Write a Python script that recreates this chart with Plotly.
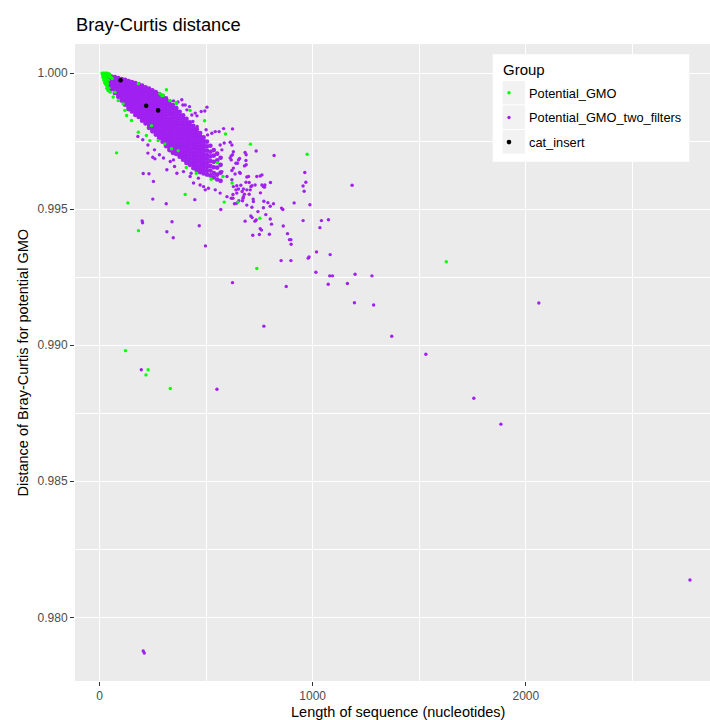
import plotly.graph_objects as go

# ---------------------------------------------------------------------------
# Potential_GMO (green)
gmo_len = [12, 18, 24, 30, 36, 42, 48,
           14, 20, 26, 33, 40, 47, 54, 60,
           16, 22, 28, 35, 42,
           20, 26, 32, 38,
           24, 30, 36, 44,
           34, 40, 50,
           72, 64, 88, 111, 119, 127, 150, 182, 220, 236, 275, 307, 338, 369,
           182, 299, 314, 361, 283, 330, 244,
           80, 122, 228, 218, 332, 133, 183, 402, 585, 752, 974, 708, 591, 493,
           524, 553, 622, 649, 738, 1627, 407, 454, 579, 425, 360, 293]
gmo_dist = [1.00000, 1.00000, 1.00000, 1.00000, 1.00000, 0.99998, 0.99996,
            0.99994, 0.99992, 0.99993, 0.99991, 0.99990, 0.99987, 0.99985, 0.99980,
            0.99985, 0.99983, 0.99982, 0.99978, 0.99975,
            0.99975, 0.99972, 0.99968, 0.99962,
            0.99965, 0.99958, 0.99952, 0.99945,
            0.99944, 0.99936, 0.99930,
            0.99930, 0.99912, 0.99899, 0.99887, 0.99863, 0.99844, 0.99826, 0.99783,
            0.99771, 0.99752, 0.99752, 0.99740, 0.99722, 0.99715,
            0.99961, 0.99918, 0.99939, 0.99887, 0.99924, 0.99899, 0.99807,
            0.99707, 0.98980, 0.98910, 0.98891, 0.98841, 0.99523, 0.99421, 0.99554,
            0.99526, 0.99467, 0.99702, 0.99739, 0.99776, 0.99825,
            0.99610, 0.99671, 0.99596, 0.99526, 0.99282, 0.99307, 0.99653, 0.99632,
            0.99620, 0.99863, 0.99892, 0.99917]

# ---------------------------------------------------------------------------
# Potential_GMO_two_filters (purple): the dense band, one list per length
core_len = [40, 56, 72, 88, 104, 120, 136, 152, 168, 184, 200, 216, 232, 248,
            264, 280, 296, 312, 328, 344, 360, 376, 392, 408, 424, 440, 456,
            472, 488, 504, 520, 536, 552, 568]
core_dist = [
    [0.99989, 0.99978, 0.99966, 0.99955],
    [0.99987, 0.99976, 0.99963, 0.99952, 0.99941],
    [0.99985, 0.99972, 0.99961, 0.99949, 0.99938, 0.99927],
    [0.99982, 0.99970, 0.99958, 0.99946, 0.99933, 0.99922, 0.99913],
    [0.99978, 0.99966, 0.99955, 0.99942, 0.99931, 0.99918, 0.99907, 0.99899],
    [0.99975, 0.99963, 0.99950, 0.99939, 0.99927, 0.99916, 0.99903, 0.99892, 0.99884],
    [0.99971, 0.99959, 0.99948, 0.99935, 0.99923, 0.99911, 0.99900, 0.99887, 0.99876, 0.99868],
    [0.99967, 0.99955, 0.99942, 0.99931, 0.99919, 0.99908, 0.99895, 0.99883, 0.99871, 0.99859],
    [0.99963, 0.99951, 0.99939, 0.99926, 0.99915, 0.99903, 0.99890, 0.99879, 0.99867, 0.99855, 0.99846],
    [0.99959, 0.99946, 0.99935, 0.99923, 0.99910, 0.99899, 0.99887, 0.99874, 0.99863, 0.99851, 0.99839],
    [0.99954, 0.99942, 0.99931, 0.99918, 0.99906, 0.99895, 0.99882, 0.99870, 0.99859, 0.99846, 0.99834, 0.99825],
    [0.99948, 0.99937, 0.99924, 0.99912, 0.99901, 0.99888, 0.99876, 0.99865, 0.99852, 0.99840, 0.99828, 0.99815],
    [0.99943, 0.99931, 0.99918, 0.99907, 0.99895, 0.99883, 0.99870, 0.99859, 0.99847, 0.99834, 0.99823, 0.99811, 0.99799],
    [0.99937, 0.99925, 0.99914, 0.99901, 0.99889, 0.99876, 0.99865, 0.99853, 0.99840, 0.99829, 0.99817, 0.99804, 0.99793, 0.99786],
    [0.99930, 0.99918, 0.99907, 0.99894, 0.99882, 0.99870, 0.99857, 0.99846, 0.99834, 0.99821, 0.99810, 0.99798, 0.99785, 0.99774],
    [0.99923, 0.99912, 0.99899, 0.99888, 0.99876, 0.99863, 0.99852, 0.99840, 0.99827, 0.99816, 0.99804, 0.99791, 0.99780, 0.99768, 0.99761],
    [0.99916, 0.99904, 0.99891, 0.99880, 0.99868, 0.99855, 0.99844, 0.99832, 0.99819, 0.99808, 0.99796, 0.99783, 0.99772, 0.99760, 0.99748],
    [0.99907, 0.99895, 0.99884, 0.99871, 0.99859, 0.99846, 0.99835, 0.99823, 0.99810, 0.99799, 0.99787, 0.99774, 0.99763, 0.99751, 0.99739, 0.99732],
    [0.99895, 0.99883, 0.99870, 0.99859, 0.99847, 0.99834, 0.99823, 0.99811, 0.99798, 0.99787, 0.99775, 0.99762, 0.99751, 0.99739, 0.99726, 0.99717],
    [0.99882, 0.99870, 0.99857, 0.99846, 0.99834, 0.99821, 0.99810, 0.99798, 0.99785, 0.99774, 0.99762, 0.99749, 0.99738, 0.99726, 0.99713, 0.99707],
    [0.99871, 0.99859, 0.99846, 0.99835, 0.99823, 0.99810, 0.99799, 0.99787, 0.99774, 0.99763, 0.99751, 0.99738, 0.99727, 0.99715, 0.99703],
    [0.99858, 0.99846, 0.99833, 0.99822, 0.99810, 0.99797, 0.99786, 0.99774, 0.99761, 0.99750, 0.99738, 0.99725, 0.99714, 0.99702, 0.99693],
    [0.99845, 0.99833, 0.99820, 0.99809, 0.99797, 0.99784, 0.99773, 0.99761, 0.99748, 0.99737, 0.99725, 0.99712, 0.99701, 0.99689, 0.99682],
    [0.99832, 0.99820, 0.99807, 0.99796, 0.99784, 0.99771, 0.99760, 0.99748, 0.99735, 0.99724, 0.99712, 0.99699, 0.99688, 0.99676, 0.99670],
    [0.99819, 0.99807, 0.99794, 0.99783, 0.99771, 0.99758, 0.99747, 0.99735, 0.99722, 0.99711, 0.99699, 0.99686, 0.99675, 0.99663],
    [0.99806, 0.99794, 0.99781, 0.99770, 0.99758, 0.99745, 0.99734, 0.99722, 0.99709, 0.99698, 0.99686, 0.99673, 0.99662, 0.99651],
    [0.99794, 0.99782, 0.99769, 0.99758, 0.99746, 0.99733, 0.99722, 0.99710, 0.99697, 0.99686, 0.99674, 0.99661, 0.99650, 0.99643],
    [0.99780, 0.99768, 0.99755, 0.99744, 0.99732, 0.99719, 0.99708, 0.99696, 0.99683, 0.99672, 0.99660, 0.99647, 0.99636],
    [0.99764, 0.99752, 0.99739, 0.99728, 0.99716, 0.99703, 0.99692, 0.99680, 0.99667, 0.99656, 0.99644, 0.99631],
    [0.99748, 0.99731, 0.99715, 0.99699, 0.99685, 0.99669, 0.99655, 0.99641, 0.99627],
    [0.99733, 0.99711, 0.99694, 0.99677, 0.99659, 0.99642, 0.99624],
    [0.99717, 0.99697, 0.99674, 0.99654, 0.99633, 0.99617],
    [0.99704, 0.99679, 0.99653, 0.99627, 0.99609],
    [0.99689, 0.99663, 0.99634, 0.99604],
]

# scattered two-filter sequences around and beyond the band
two_len = [347, 368, 386, 391, 402, 410, 422, 433, 449, 457, 477, 438, 458, 494, 504,
           500, 507, 527, 543, 561, 582, 624, 585, 566, 574, 613, 621, 624, 613, 652,
           683, 735, 819, 647, 628, 660, 691, 738, 762, 769, 707, 730, 628, 621, 598,
           574, 551, 488, 511, 543, 566, 598, 644, 675, 688, 657,
           253, 332, 347, 300, 316, 363, 394, 425, 464, 441, 472, 496,
           180, 203, 227, 258, 281, 352, 430, 250, 227, 205, 232, 260,
           313, 250, 200, 202, 316, 340, 447, 468, 346, 569,
           628, 618, 618, 640, 687, 688, 680, 621, 657, 636, 699, 754,
           687, 702, 762, 776, 774, 802, 644, 663, 710, 715, 640, 652, 675, 691, 669,
           626, 680, 702, 755, 721, 722, 618, 626, 673, 654, 671, 643, 633,
           771, 790, 816, 913, 691, 715, 769, 801, 743, 710, 716, 780, 801,
           683, 729, 735, 807, 862, 754, 760, 719, 750, 797, 882, 891, 898, 899,
           1018, 1082, 983, 979, 852, 898, 854, 860, 955, 1041, 1074, 1034,
           963, 968, 955, 960, 987, 1185, 497, 624, 1015, 1080, 1093, 1199, 1278,
           1073, 1163, 876, 1196, 1286, 1371, 1531, 1756, 1883, 2061, 771, 196, 551,
           2770, 205, 210]
two_dist = [0.99898, 0.99894, 0.99902, 0.99883, 0.99883, 0.99865, 0.99877, 0.99846,
            0.99853, 0.99843, 0.99859, 0.99822, 0.99804, 0.99861, 0.99875,
            0.99792, 0.99773, 0.99779, 0.99785, 0.99785, 0.99796, 0.99795, 0.99743,
            0.99736, 0.99718, 0.99746, 0.99736, 0.99700, 0.99688, 0.99681,
            0.99708, 0.99714, 0.99697, 0.99669, 0.99651, 0.99632, 0.99618, 0.99620,
            0.99626, 0.99583, 0.99571, 0.99589, 0.99583, 0.99608, 0.99620,
            0.99638, 0.99626, 0.99583, 0.99577, 0.99571, 0.99559, 0.99546, 0.99559,
            0.99546, 0.99700, 0.99686,
            0.99602, 0.99675, 0.99681, 0.99688, 0.99645, 0.99632, 0.99638, 0.99620,
            0.99614, 0.99596, 0.99589, 0.99571,
            0.99767, 0.99755, 0.99736, 0.99718, 0.99700, 0.99657, 0.99632, 0.99691,
            0.99706, 0.99631, 0.99630, 0.99685,
            0.99520, 0.99537, 0.99457, 0.99450, 0.99417, 0.99454, 0.99535, 0.99439,
            0.99395, 0.99499,
            0.99711, 0.99696, 0.99681, 0.99669, 0.99679, 0.99663, 0.99659, 0.99642,
            0.99635, 0.99629, 0.99620, 0.99622,
            0.99599, 0.99598, 0.99589, 0.99589, 0.99581, 0.99598, 0.99586, 0.99588,
            0.99583, 0.99586, 0.99571, 0.99574, 0.99574, 0.99571, 0.99565,
            0.99554, 0.99555, 0.99555, 0.99560, 0.99537, 0.99528, 0.99540, 0.99540,
            0.99540, 0.99531, 0.99531, 0.99522, 0.99520,
            0.99529, 0.99524, 0.99520, 0.99523, 0.99515, 0.99507, 0.99505, 0.99511,
            0.99491, 0.99475, 0.99469, 0.99480, 0.99464,
            0.99456, 0.99456, 0.99460, 0.99445, 0.99438, 0.99428, 0.99423, 0.99404,
            0.99407, 0.99408, 0.99410, 0.99388, 0.99388, 0.99371,
            0.99343, 0.99333, 0.99324, 0.99320, 0.99311, 0.99311, 0.99504, 0.99499,
            0.99458, 0.99458, 0.99461, 0.99432,
            0.99635, 0.99599, 0.99585, 0.99566, 0.99516, 0.99588, 0.99365, 0.99230,
            0.99268, 0.99255, 0.99255, 0.99261, 0.99255,
            0.99224, 0.99227, 0.99216, 0.99156, 0.99148, 0.99033, 0.98967, 0.98805,
            0.98710, 0.99155, 0.99070, 0.98910, 0.98838,
            0.98137, 0.97876, 0.97869]

# ---------------------------------------------------------------------------
# cat_insert (black)
cat_len = [99, 219, 275]
cat_dist = [0.99974, 0.99880, 0.99863]

x_ticks = [0, 1000, 2000]
y_ticks = [0.980, 0.985, 0.990, 0.995, 1.000]
y_ticktext = ["0.980", "0.985", "0.990", "0.995", "1.000"]

# ---------------------------------------------------------------------------
core_x = [x for x, col in zip(core_len, core_dist) for _ in col]
core_y = [y for col in core_dist for y in col]

FONT = "Liberation Sans, Arial, Helvetica, sans-serif"
PURPLE, GREEN = "#A020F0", "#00FF00"
W, H = 710, 720
ML, MR, MT, MB = 75, 0, 44, 39
PW, PH = W - ML - MR, H - MT - MB


def px_x(px):
    return (px - ML) / PW


def px_y(py):
    return (H - MB - py) / PH


fig = go.Figure()
# the overlapping band is drawn with slightly larger dots so that it reads as
# one solid cloud, as the overplotted points do in the original
fig.add_trace(go.Scatter(
    x=core_x, y=core_y, mode="markers", name="Potential_GMO_two_filters",
    marker=dict(color=PURPLE, size=4.7, line=dict(width=0)),
    legendgroup="b", showlegend=False, hoverinfo="skip"))
fig.add_trace(go.Scatter(
    x=two_len, y=two_dist, mode="markers", name="Potential_GMO_two_filters",
    marker=dict(color=PURPLE, size=3.4, line=dict(width=0)),
    legendrank=2, legendgroup="b", hoverinfo="skip"))
fig.add_trace(go.Scatter(
    x=gmo_len, y=gmo_dist, mode="markers", name="Potential_GMO",
    marker=dict(color=GREEN, size=3.4, line=dict(width=0)),
    legendrank=1, legendgroup="a", hoverinfo="skip"))
fig.add_trace(go.Scatter(
    x=cat_len, y=cat_dist, mode="markers", name="cat_insert",
    marker=dict(color="black", size=4.6, line=dict(width=0)),
    legendrank=3, legendgroup="c", hoverinfo="skip"))

# legend panel and grey key backgrounds (ggplot style)
shapes = [dict(type="rect", xref="paper", yref="paper", layer="above",
               x0=px_x(492.7), x1=px_x(689.3), y0=px_y(161.7), y1=px_y(54.3),
               fillcolor="white", line=dict(width=0))]
for top, bot in [(81.0, 104.3), (105.3, 129.0), (130.0, 153.7)]:
    shapes.append(dict(type="rect", xref="paper", yref="paper", layer="above",
                       x0=px_x(502.5), x1=px_x(525.0), y0=px_y(bot), y1=px_y(top),
                       fillcolor="#F2F2F2", line=dict(width=0)))

fig.update_layout(
    width=W, height=H,
    margin=dict(l=ML, r=MR, t=MT, b=MB, pad=0),
    paper_bgcolor="white", plot_bgcolor="#EBEBEB",
    font=dict(family=FONT, color="black"),
    title=dict(text="Bray-Curtis distance", x=76 / W, xanchor="left",
               xref="container", yref="container", y=1 - 25 / H, yanchor="middle",
               font=dict(size=18.3, color="black")),
    showlegend=True,
    legend=dict(font=dict(size=12.8, color="black"),
                x=px_x(489), y=px_y(78), xanchor="left", yanchor="top",
                bgcolor="rgba(0,0,0,0)", borderwidth=0,
                tracegroupgap=5, itemwidth=30, traceorder="grouped"),
    shapes=shapes,
    annotations=[
        dict(text="Group", xref="paper", yref="paper",
             x=px_x(501), y=px_y(69), xanchor="left", yanchor="middle",
             showarrow=False, font=dict(size=15, color="black")),
        dict(text="Length of sequence (nucleotides)", xref="paper", yref="paper",
             x=px_x(397.5), y=px_y(712), xanchor="center", yanchor="middle",
             showarrow=False, font=dict(size=14.5, color="black")),
        dict(text="Distance of Bray-Curtis for potential GMO", xref="paper", yref="paper",
             x=px_x(22), y=px_y(362.5), xanchor="center", yanchor="middle",
             textangle=-90, showarrow=False, font=dict(size=14.5, color="black")),
    ],
)

fig.update_xaxes(
    range=[-115, 2864], tickvals=x_ticks, ticktext=[str(v) for v in x_ticks],
    ticks="outside", ticklen=4, tickwidth=1, tickcolor="#333333",
    tickfont=dict(size=12, color="#4D4D4D", family=FONT),
    showgrid=True, gridcolor="white", gridwidth=1.1,
    zeroline=False, showline=False,
    minor=dict(tickvals=[500, 1500, 2500], showgrid=True, gridcolor="white",
               gridwidth=0.55, ticks=""),
)
fig.update_yaxes(
    range=[0.97766, 1.00107], tickvals=y_ticks, ticktext=y_ticktext,
    ticks="outside", ticklen=4, tickwidth=1, tickcolor="#333333",
    tickfont=dict(size=12, color="#4D4D4D", family=FONT),
    showgrid=True, gridcolor="white", gridwidth=1.1,
    zeroline=False, showline=False,
    minor=dict(tickvals=[0.9825, 0.9875, 0.9925, 0.9975], showgrid=True,
               gridcolor="white", gridwidth=0.55, ticks=""),
)

fig.write_html("out.html")
